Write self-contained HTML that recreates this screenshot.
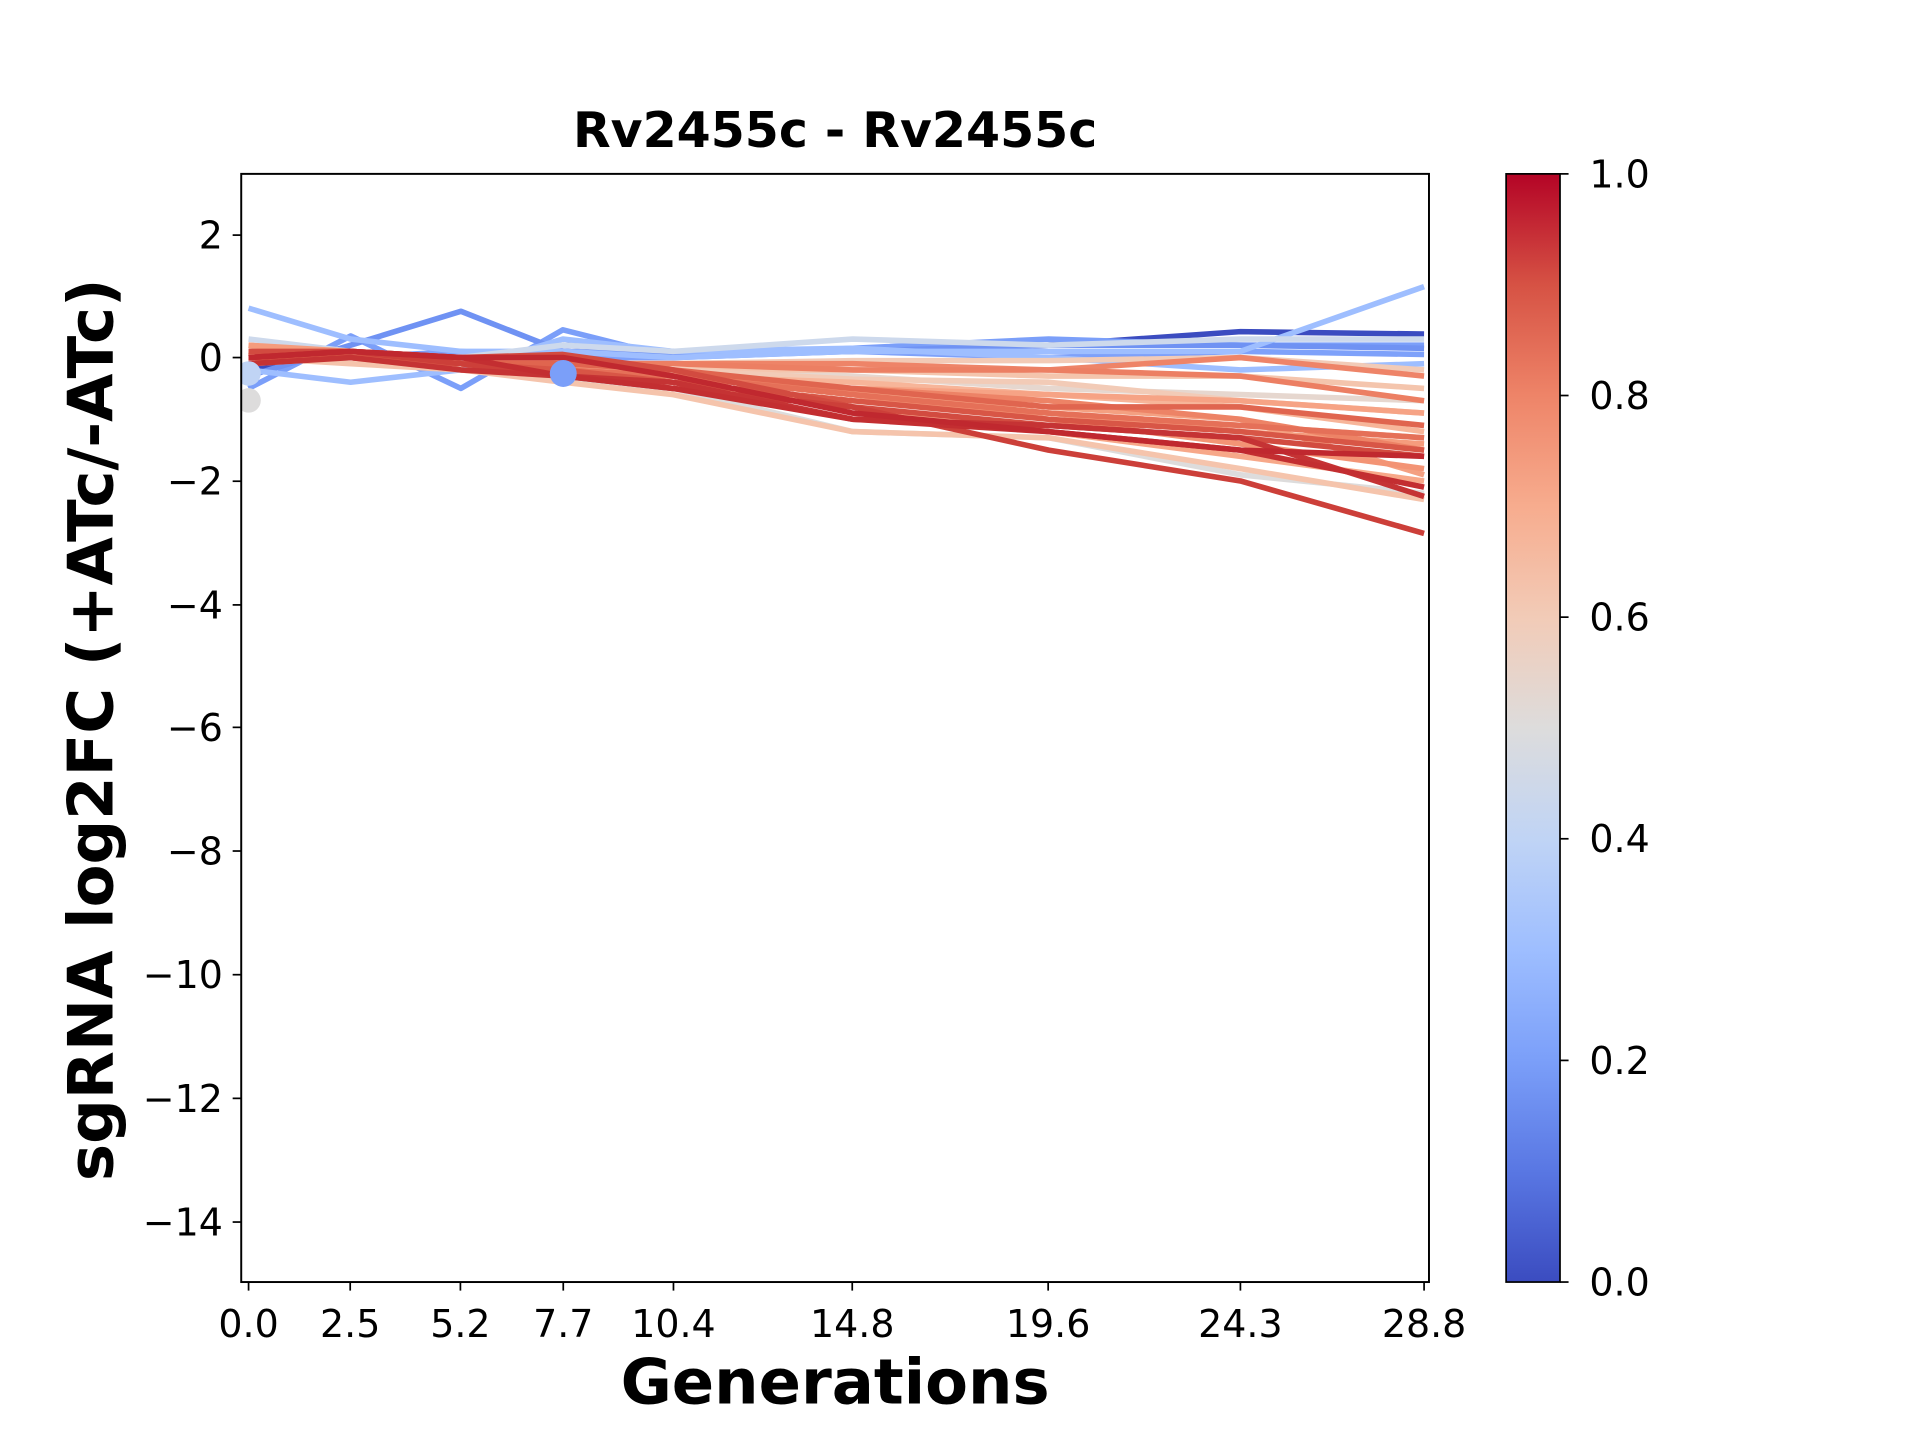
<!DOCTYPE html>
<html><head><style>html,body{margin:0;padding:0;background:#fff;}svg{display:block}</style></head>
<body>
<svg width="1920" height="1440" viewBox="0 0 1568 1176" xmlns="http://www.w3.org/2000/svg" font-family="'DejaVu Sans','Liberation Sans',sans-serif">
<defs>
<clipPath id="c"><rect x="197" y="142" width="970" height="905"/></clipPath>
<linearGradient id="cw" x1="0" y1="1" x2="0" y2="0">
<stop offset="0" stop-color="#3b4cc0"/><stop offset="0.1" stop-color="#5977e3"/><stop offset="0.2" stop-color="#7b9ff9"/><stop offset="0.3" stop-color="#9ebeff"/><stop offset="0.4" stop-color="#c0d4f5"/><stop offset="0.5" stop-color="#dddcdc"/><stop offset="0.6" stop-color="#f2cbb7"/><stop offset="0.7" stop-color="#f7ac8e"/><stop offset="0.8" stop-color="#ee8468"/><stop offset="0.9" stop-color="#d65244"/><stop offset="1" stop-color="#b40426"/>
</linearGradient>
</defs>
<rect width="1568" height="1176" fill="#fff"/>
<g clip-path="url(#c)">
<g transform="matrix(33.333 0 0 -50.4 203 292)" fill="none" stroke-width="5.6" stroke-linejoin="round">
<polyline vector-effect="non-scaling-stroke" stroke="#3b4cc0" points="0,-0.2 2.5,0.1 5.2,-0.1 7.7,0.2 10.4,0.1 14.8,0.1 19.6,0.2 24.3,0.42 28.8,0.38"/>
<polyline vector-effect="non-scaling-stroke" stroke="#7b9ff9" points="0,-0.5 2.5,0.35 5.2,-0.5 7.7,0.45 10.4,0 14.8,0.15 19.6,0.3 24.3,0.2 28.8,0.2"/>
<polyline vector-effect="non-scaling-stroke" stroke="#6f92f3" points="0,-0.3 2.5,0.2 5.2,0.75 7.7,0.1 10.4,0.05 14.8,0.1 19.6,0.2 24.3,0.2 28.8,0.15"/>
<polyline vector-effect="non-scaling-stroke" stroke="#7ea1fa" points="0,0 2.5,0 5.2,0.1 7.7,0 10.4,0 14.8,0.1 19.6,0 24.3,0.1 28.8,0.05"/>
<polyline vector-effect="non-scaling-stroke" stroke="#9ebeff" points="0,0.8 2.5,0.3 5.2,0.1 7.7,0.1 10.4,0 14.8,0.1 19.6,0.1 24.3,0.1 28.8,1.15"/>
<polyline vector-effect="non-scaling-stroke" stroke="#9ebeff" points="0,-0.2 2.5,-0.4 5.2,-0.2 7.7,0.3 10.4,0.1 14.8,0.15 19.6,0 24.3,-0.2 28.8,-0.1"/>
<polyline vector-effect="non-scaling-stroke" stroke="#cdd9ec" points="0,0.3 2.5,0.1 5.2,0 7.7,0.2 10.4,0.1 14.8,0.3 19.6,0.2 24.3,0.3 28.8,0.3"/>
<polyline vector-effect="non-scaling-stroke" stroke="#dddcdc" points="0,-0.1 2.5,0 5.2,0 7.7,-0.4 10.4,-0.5 14.8,-1.2 19.6,-1.3 24.3,-1.9 28.8,-2.2"/>
<polyline vector-effect="non-scaling-stroke" stroke="#e6d7cf" points="0,0 2.5,0 5.2,0 7.7,-0.1 10.4,-0.2 14.8,-0.3 19.6,-0.5 24.3,-0.6 28.8,-0.7"/>
<polyline vector-effect="non-scaling-stroke" stroke="#f2cbb7" points="0,0 2.5,0 5.2,0 7.7,-0.1 10.4,-0.1 14.8,-0.05 19.6,-0.05 24.3,0 28.8,-0.2"/>
<polyline vector-effect="non-scaling-stroke" stroke="#f5c4ac" points="0,0 2.5,-0.1 5.2,-0.2 7.7,-0.4 10.4,-0.6 14.8,-1.2 19.6,-1.3 24.3,-1.8 28.8,-2.3"/>
<polyline vector-effect="non-scaling-stroke" stroke="#f4c5ad" points="0,0 2.5,0 5.2,-0.1 7.7,-0.2 10.4,-0.2 14.8,-0.2 19.6,-0.3 24.3,-0.3 28.8,-0.5"/>
<polyline vector-effect="non-scaling-stroke" stroke="#f2cbb7" points="0,0 2.5,0 5.2,0 7.7,-0.1 10.4,-0.2 14.8,-0.35 19.6,-0.4 24.3,-0.7 28.8,-0.9"/>
<polyline vector-effect="non-scaling-stroke" stroke="#f7b599" points="0,0.1 2.5,0 5.2,-0.1 7.7,-0.2 10.4,-0.3 14.8,-0.4 19.6,-0.6 24.3,-0.8 28.8,-1.2"/>
<polyline vector-effect="non-scaling-stroke" stroke="#f7b89c" points="0,0.1 2.5,0 5.2,-0.1 7.7,-0.3 10.4,-0.4 14.8,-0.7 19.6,-0.9 24.3,-1.1 28.8,-1.3"/>
<polyline vector-effect="non-scaling-stroke" stroke="#f7a889" points="0,0.2 2.5,0 5.2,-0.2 7.7,-0.3 10.4,-0.4 14.8,-0.8 19.6,-1.2 24.3,-1.6 28.8,-2.0"/>
<polyline vector-effect="non-scaling-stroke" stroke="#f6a385" points="0,0.1 2.5,0 5.2,-0.1 7.7,-0.2 10.4,-0.3 14.8,-0.5 19.6,-0.6 24.3,-0.7 28.8,-0.9"/>
<polyline vector-effect="non-scaling-stroke" stroke="#f59c7d" points="0,0.2 2.5,0.1 5.2,0 7.7,-0.1 10.4,-0.3 14.8,-0.6 19.6,-0.9 24.3,-1.2 28.8,-1.4"/>
<polyline vector-effect="non-scaling-stroke" stroke="#f4a081" points="0,0.1 2.5,0 5.2,-0.1 7.7,-0.2 10.4,-0.3 14.8,-0.55 19.6,-0.8 24.3,-1.0 28.8,-1.9"/>
<polyline vector-effect="non-scaling-stroke" stroke="#f39475" points="0,0 2.5,0 5.2,-0.1 7.7,-0.2 10.4,-0.3 14.8,-0.6 19.6,-1.0 24.3,-1.4 28.8,-1.8"/>
<polyline vector-effect="non-scaling-stroke" stroke="#ee8468" points="0,0 2.5,0 5.2,0 7.7,-0.1 10.4,-0.1 14.8,-0.1 19.6,-0.2 24.3,0 28.8,-0.3"/>
<polyline vector-effect="non-scaling-stroke" stroke="#ec7f63" points="0,0.1 2.5,0 5.2,-0.1 7.7,-0.1 10.4,-0.1 14.8,-0.2 19.6,-0.2 24.3,-0.3 28.8,-0.7"/>
<polyline vector-effect="non-scaling-stroke" stroke="#ed8366" points="0,0 2.5,0.1 5.2,-0.1 7.7,-0.2 10.4,-0.3 14.8,-0.5 19.6,-0.7 24.3,-1.0 28.8,-1.5"/>
<polyline vector-effect="non-scaling-stroke" stroke="#e57058" points="0,0 2.5,0 5.2,-0.1 7.7,-0.2 10.4,-0.3 14.8,-0.6 19.6,-0.9 24.3,-1.1 28.8,-1.3"/>
<polyline vector-effect="non-scaling-stroke" stroke="#e0654f" points="0,0 2.5,0 5.2,-0.1 7.7,-0.1 10.4,-0.2 14.8,-0.5 19.6,-0.8 24.3,-0.8 28.8,-1.1"/>
<polyline vector-effect="non-scaling-stroke" stroke="#d85646" points="0,0 2.5,0 5.2,-0.1 7.7,-0.2 10.4,-0.4 14.8,-0.7 19.6,-1.0 24.3,-1.2 28.8,-1.5"/>
<polyline vector-effect="non-scaling-stroke" stroke="#d24b40" points="0,0.1 2.5,0.1 5.2,0 7.7,0.05 10.4,-0.2 14.8,-0.8 19.6,-1.1 24.3,-1.3 28.8,-1.6"/>
<polyline vector-effect="non-scaling-stroke" stroke="#cc3f39" points="0,0 2.5,0.1 5.2,-0.1 7.7,-0.3 10.4,-0.5 14.8,-0.8 19.6,-1.5 24.3,-2.0 28.8,-2.85"/>
<polyline vector-effect="non-scaling-stroke" stroke="#c53334" points="0,-0.1 2.5,0 5.2,-0.2 7.7,-0.3 10.4,-0.4 14.8,-1.0 19.6,-1.1 24.3,-1.3 28.8,-2.25"/>
<polyline vector-effect="non-scaling-stroke" stroke="#c32e31" points="0,0 2.5,0.1 5.2,0 7.7,-0.3 10.4,-0.5 14.8,-1.0 19.6,-1.2 24.3,-1.5 28.8,-2.1"/>
<polyline vector-effect="non-scaling-stroke" stroke="#c0282f" points="0,0 2.5,0.1 5.2,0 7.7,0 10.4,-0.3 14.8,-0.9 19.6,-1.2 24.3,-1.5 28.8,-1.6"/>
</g>
<circle cx="203" cy="327" r="10" fill="#dddcdc"/>
<circle cx="203" cy="305" r="10" fill="#c0d4f5"/>
<circle cx="460" cy="305" r="11" fill="#7b9ff9"/>
</g>
<rect x="197" y="142" width="970" height="905" fill="none" stroke="#000" stroke-width="1.6"/>
<g stroke="#000" stroke-width="1.4">
<line x1="190" y1="192" x2="197" y2="192"/><line x1="190" y1="292" x2="197" y2="292"/><line x1="190" y1="393" x2="197" y2="393"/><line x1="190" y1="494" x2="197" y2="494"/><line x1="190" y1="594" x2="197" y2="594"/><line x1="190" y1="695" x2="197" y2="695"/><line x1="190" y1="796" x2="197" y2="796"/><line x1="190" y1="897" x2="197" y2="897"/><line x1="190" y1="998" x2="197" y2="998"/>
<line x1="203" y1="1047" x2="203" y2="1054"/><line x1="286" y1="1047" x2="286" y2="1054"/><line x1="376" y1="1047" x2="376" y2="1054"/><line x1="460" y1="1047" x2="460" y2="1054"/><line x1="550" y1="1047" x2="550" y2="1054"/><line x1="696" y1="1047" x2="696" y2="1054"/><line x1="856" y1="1047" x2="856" y2="1054"/><line x1="1013" y1="1047" x2="1013" y2="1054"/><line x1="1163" y1="1047" x2="1163" y2="1054"/>
</g>
<g font-size="31" text-anchor="end" fill="#000">
<text x="182" y="203">2</text><text x="182" y="303">0</text><text x="182" y="404">−2</text><text x="182" y="505">−4</text><text x="182" y="605">−6</text><text x="182" y="706">−8</text><text x="182" y="807">−10</text><text x="182" y="908">−12</text><text x="182" y="1009">−14</text>
</g>
<g font-size="31" text-anchor="middle" fill="#000">
<text x="203" y="1092">0.0</text><text x="286" y="1092">2.5</text><text x="376" y="1092">5.2</text><text x="460" y="1092">7.7</text><text x="550" y="1092">10.4</text><text x="696" y="1092">14.8</text><text x="856" y="1092">19.6</text><text x="1013" y="1092">24.3</text><text x="1163" y="1092">28.8</text>
</g>
<text x="682" y="120" font-size="40" font-weight="bold" text-anchor="middle">Rv2455c - Rv2455c</text>
<text x="682" y="1146" font-size="51" font-weight="bold" text-anchor="middle">Generations</text>
<text transform="translate(92,596) rotate(-90)" font-size="51" font-weight="bold" text-anchor="middle">sgRNA log2FC (+ATc/-ATc)</text>
<rect x="1230" y="142" width="44" height="905" fill="url(#cw)" stroke="#000" stroke-width="1.4"/>
<g stroke="#000" stroke-width="1.4">
<line x1="1274" y1="1047" x2="1281" y2="1047"/><line x1="1274" y1="866" x2="1281" y2="866"/><line x1="1274" y1="685" x2="1281" y2="685"/><line x1="1274" y1="504" x2="1281" y2="504"/><line x1="1274" y1="323" x2="1281" y2="323"/><line x1="1274" y1="142" x2="1281" y2="142"/>
</g>
<g font-size="31" fill="#000">
<text x="1298" y="1058">0.0</text><text x="1298" y="877">0.2</text><text x="1298" y="696">0.4</text><text x="1298" y="515">0.6</text><text x="1298" y="334">0.8</text><text x="1298" y="153">1.0</text>
</g>
</svg>
</body></html>
